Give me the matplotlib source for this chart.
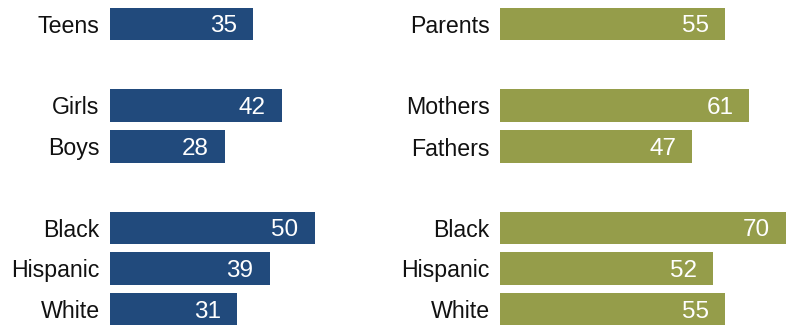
import matplotlib
matplotlib.use("Agg")
import matplotlib.pyplot as plt

teen_labels = ["Teens", "Girls", "Boys", "Black", "Hispanic", "White"]
teen_values = [35, 42, 28, 50, 39, 31]
parent_labels = ["Parents", "Mothers", "Fathers", "Black", "Hispanic", "White"]
parent_values = [55, 61, 47, 70, 52, 55]

W, H = 787, 325
fig = plt.figure(figsize=(W / 100, H / 100), dpi=100)

# row centres in pixels from top, with extra space between groups
rows = [24, 105.5, 146.5, 228, 268.5, 309]
bar_h = 32.5
px_per_unit = 4.09
FONT = "Liberation Sans"


def panel(x0, labels, values, color):
    xmax = (W - x0) / px_per_unit
    ax = fig.add_axes([x0 / W, 0, (W - x0) / W, 1])
    ax.barh(rows, values, height=bar_h, color=color)
    ax.set_xlim(0, xmax)
    ax.set_ylim(H, 0)
    ax.set_yticks(rows)
    ax.set_yticklabels(labels, fontsize=16.7, family=FONT, color="#111111")
    ax.tick_params(axis="y", length=0, pad=7.5)
    ax.set_xticks([])
    for s in ax.spines.values():
        s.set_visible(False)
    ax.patch.set_alpha(0)
    for y, v in zip(rows, values):
        ax.text(v - 16 / px_per_unit, y + 2.5, str(v), ha="right", va="center",
                fontsize=17.5, family=FONT, color="white")
    return ax


panel(110, teen_labels, teen_values, "#214A7C")
panel(500, parent_labels, parent_values, "#959D4A")

fig.savefig("out.png", dpi=100)
